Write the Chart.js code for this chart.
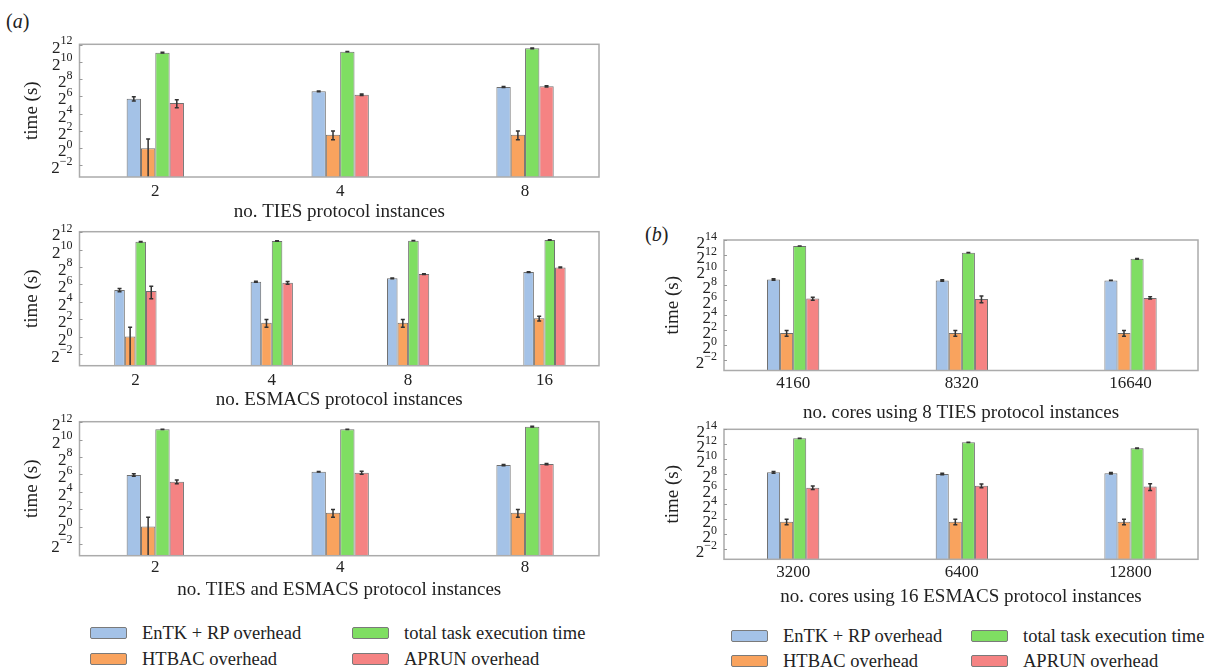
<!DOCTYPE html>
<html>
<head>
<meta charset="utf-8">
<script src="https://cdn.jsdelivr.net/npm/chart.js@4.4.1/dist/chart.umd.min.js"></script>
<style>
  body { margin: 0; background: #fff; width: 1207px; height: 668px; position: relative; overflow: hidden;
         font-family: "Liberation Serif", "Times New Roman", serif; color: #222; }
  canvas { position: absolute; }
  .tag { position: absolute; font-size: 20px; line-height: 24px; }
  .leg { position: absolute; font-size: 18.5px; white-space: nowrap; display: flex; align-items: center; height: 22px; }
  .sw { width: 37px; height: 12px; border: 1px solid #7a7a7a; border-radius: 2px; box-sizing: border-box; margin-right: 15px; }
</style>
</head>
<body>
<div class="tag" style="left:6px;top:9px">(<i>a</i>)</div>
<div class="tag" style="left:645px;top:222px">(<i>b</i>)</div>
<canvas id="a1"></canvas>
<canvas id="a2"></canvas>
<canvas id="a3"></canvas>
<canvas id="b1"></canvas>
<canvas id="b2"></canvas>
<div id="legends"></div>
<script>
const seriesLabels = ['EnTK + RP overhead', 'HTBAC overhead', 'total task execution time', 'APRUN overhead'];
const seriesColors = ['#a4c2e7', '#f9a35e', '#7fde62', '#f58383'];

const yExpsA = [-2, 0, 2, 4, 6, 8, 10, 12];
const yExpsB = [-2, 0, 2, 4, 6, 8, 10, 12, 14];

// (a) TIES only
const tiesCats = ['2', '4', '8'];
const tiesEntk = [53.4, 97, 136];
const tiesHtbac = [1.0, 2.95, 2.95];
const tiesTotal = [2165, 2336, 3083];
const tiesAprun = [37.5, 73.5, 145];
const tiesEntkErr = [9, 3, 6];
const tiesHtbacErr = [1.1, 1.0, 1.0];
const tiesTotalErr = [60, 20, 90];
const tiesAprunErr = [12, 5, 7];

// (a) ESMACS only
const esmacsCats = ['2', '4', '8', '16'];
const esmacsEntk = [40.8, 78.8, 103, 170];
const esmacsHtbac = [1.0, 3.0, 3.0, 4.26];
const esmacsTotal = [1911, 2020, 2076, 2195];
const esmacsAprun = [37.5, 72.5, 145, 247];
const esmacsEntkErr = [5, 3, 3, 5];
const esmacsHtbacErr = [1.1, 0.9, 0.9, 0.8];
const esmacsTotalErr = [40, 50, 30, 30];
const esmacsAprunErr = [17, 8, 5, 6];

// (a) TIES and ESMACS
const bothCats = ['2', '4', '8'];
const bothEntk = [60.5, 78.8, 134];
const bothHtbac = [1.0, 3.0, 3.0];
const bothTotal = [2304, 2304, 2857];
const bothAprun = [35.5, 73, 145];
const bothEntkErr = [6, 2, 6];
const bothHtbacErr = [1.1, 0.9, 0.9];
const bothTotalErr = [40, 40, 80];
const bothAprunErr = [5, 9, 7];

// (b) cores, 8 TIES
const tiesCoreCats = ['4160', '8320', '16640'];
const tiesCoreEntk = [430, 393, 393];
const tiesCoreHtbac = [3.1, 3.1, 3.1];
const tiesCoreTotal = [9410, 5113, 2896];
const tiesCoreAprun = [74, 72, 78.8];
const tiesCoreEntkErr = [30, 25, 5];
const tiesCoreHtbacErr = [0.8, 0.8, 0.8];
const tiesCoreTotalErr = [60, 100, 90];
const tiesCoreAprunErr = [10, 22, 8];

// (b) cores, 16 ESMACS
const esmacsCoreCats = ['3200', '6400', '12800'];
const esmacsCoreEntk = [307, 263, 280];
const esmacsCoreHtbac = [3.2, 3.2, 3.2];
const esmacsCoreTotal = [7131, 4939, 2837];
const esmacsCoreAprun = [74, 89.3, 81.6];
const esmacsCoreEntkErr = [25, 20, 20];
const esmacsCoreHtbacErr = [0.8, 0.8, 0.8];
const esmacsCoreTotalErr = [60, 60, 70];
const esmacsCoreAprunErr = [12, 15, 25];

Chart.defaults.font.family = '"Liberation Serif", "Times New Roman", serif';
Chart.defaults.color = '#222';

// frame round the plot area + small inward ticks on the y axis
const framePlugin = {
  id: 'frame',
  afterDraw(chart, args, opts) {
    const { ctx, chartArea: a, scales: { y } } = chart;
    ctx.save();
    ctx.strokeStyle = '#ababab';
    ctx.lineWidth = 1.5;
    ctx.strokeRect(a.left, a.top, a.right - a.left, a.bottom - a.top);
    ctx.lineWidth = 1;
    ctx.strokeStyle = '#999';
    opts.exps.forEach(e => {
      const py = Math.round(y.getPixelForValue(Math.pow(2, e))) + 0.5;
      ctx.beginPath();
      ctx.moveTo(a.left, py);
      ctx.lineTo(a.left + 3, py);
      ctx.stroke();
    });
    ctx.restore();
  }
};

// 2^n tick labels with a raised exponent
const powLabelsPlugin = {
  id: 'powLabels',
  afterDraw(chart, args, opts) {
    const { ctx, chartArea: a, scales: { y } } = chart;
    ctx.save();
    ctx.fillStyle = '#222';
    ctx.textAlign = 'right';
    ctx.textBaseline = 'alphabetic';
    const xr = a.left - 7;
    opts.exps.forEach(e => {
      const py = y.getPixelForValue(Math.pow(2, e));
      const expTxt = e < 0 ? '\u2212' + (-e) : String(e);
      ctx.font = '12px "Liberation Serif", serif';
      ctx.fillText(expTxt, xr, py - 0.5);
      const w = ctx.measureText(expTxt).width;
      ctx.font = '17px "Liberation Serif", serif';
      ctx.fillText('2', xr - w, py + 8);
    });
    ctx.restore();
  }
};

// error bars, symmetric in seconds, clipped at the axis floor
const errorBarPlugin = {
  id: 'errorBars',
  afterDatasetsDraw(chart) {
    const { ctx, chartArea: a, scales: { y } } = chart;
    ctx.save();
    ctx.strokeStyle = '#333';
    ctx.lineWidth = 1.5;
    chart.data.datasets.forEach((ds, di) => {
      const meta = chart.getDatasetMeta(di);
      meta.data.forEach((bar, i) => {
        const v = ds.data[i].y;
        const err = ds.errors[i];
        const top = y.getPixelForValue(v + err);
        const bot = v - err > 0 ? Math.min(y.getPixelForValue(v - err), a.bottom) : a.bottom;
        ctx.beginPath();
        ctx.moveTo(bar.x, top);
        ctx.lineTo(bar.x, bot);
        ctx.moveTo(bar.x - 2, top);
        ctx.lineTo(bar.x + 2, top);
        if (bot < a.bottom) {
          ctx.moveTo(bar.x - 2, bot);
          ctx.lineTo(bar.x + 2, bot);
        }
        ctx.stroke();
      });
    });
    ctx.restore();
  }
};

function drawPanel(id, box, cats, values, errs, yExps, yMaxExp, xTitle) {
  const canvas = document.getElementById(id);
  canvas.width = box.w;
  canvas.height = box.h;
  canvas.style.left = box.x + 'px';
  canvas.style.top = box.y + 'px';

  new Chart(canvas, {
    type: 'bar',
    data: {
      datasets: values.map((vals, k) => ({
        label: seriesLabels[k],
        data: vals.map((v, i) => ({ x: i, y: v })),
        errors: errs[k],
        backgroundColor: seriesColors[k],
        borderColor: '#707070',
        borderWidth: 1,
        categoryPercentage: 0.31,
        barPercentage: 1
      }))
    },
    options: {
      responsive: false,
      animation: false,
      events: [],
      layout: { padding: { left: 0, bottom: 0, top: box.plotTop - box.y, right: box.x + box.w - box.plotRight } },
      plugins: {
        legend: { display: false },
        tooltip: { enabled: false },
        frame: { exps: yExps },
        powLabels: { exps: yExps }
      },
      scales: {
        x: {
          type: 'linear',
          offset: false,
          min: -0.41,
          max: cats.length - 1 + 0.40,
          grid: { display: false, drawTicks: false },
          border: { display: false },
          afterBuildTicks: s => { s.ticks = cats.map((c, i) => ({ value: i })); },
          afterFit: s => { s.height = box.y + box.h - box.plotBottom; },
          ticks: { callback: v => cats[v], padding: box.tickPad, font: { size: 17 }, autoSkip: false, maxRotation: 0 },
          title: { display: true, text: xTitle, font: { size: 19 },
                   padding: { top: 0, bottom: box.y + box.h - box.titleY - 19 * 1.2 / 2 } }
        },
        y: {
          type: 'logarithmic',
          bounds: 'data',
          min: Math.pow(2, -3.35),
          max: Math.pow(2, yMaxExp),
          grid: { display: false, drawTicks: false },
          border: { display: false },
          ticks: { display: false },
          afterFit: s => { s.width = box.plotLeft - box.x; },
          title: { display: true, text: 'time (s)', font: { size: 19 },
                   padding: { top: box.yTitleX - box.x - 19 * 1.2 / 2, bottom: 0 } }
        }
      }
    },
    plugins: [errorBarPlugin, framePlugin, powLabelsPlugin]
  });
}

drawPanel('a1',
  { x: 0, y: 24, w: 610, h: 200, plotLeft: 79.5, plotRight: 599, plotTop: 44.3, plotBottom: 177, titleY: 211.7, tickPad: 4, yTitleX: 32 },
  tiesCats, [tiesEntk, tiesHtbac, tiesTotal, tiesAprun],
  [tiesEntkErr, tiesHtbacErr, tiesTotalErr, tiesAprunErr], yExpsA, 12.05, 'no. TIES protocol instances');

drawPanel('a2',
  { x: 0, y: 212, w: 610, h: 200, plotLeft: 79.5, plotRight: 599, plotTop: 231.7, plotBottom: 365.7, titleY: 400, tickPad: 5, yTitleX: 32 },
  esmacsCats, [esmacsEntk, esmacsHtbac, esmacsTotal, esmacsAprun],
  [esmacsEntkErr, esmacsHtbacErr, esmacsTotalErr, esmacsAprunErr], yExpsA, 12.05, 'no. ESMACS protocol instances');

drawPanel('a3',
  { x: 0, y: 402, w: 610, h: 200, plotLeft: 79.5, plotRight: 599, plotTop: 421.7, plotBottom: 555.7, titleY: 590, tickPad: 2, yTitleX: 32 },
  bothCats, [bothEntk, bothHtbac, bothTotal, bothAprun],
  [bothEntkErr, bothHtbacErr, bothTotalErr, bothAprunErr], yExpsA, 12.05, 'no. TIES and ESMACS protocol instances');

drawPanel('b1',
  { x: 600, y: 225, w: 607, h: 200, plotLeft: 724, plotRight: 1198, plotTop: 240, plotBottom: 370.5, titleY: 413, tickPad: 2.5, yTitleX: 673 },
  tiesCoreCats, [tiesCoreEntk, tiesCoreHtbac, tiesCoreTotal, tiesCoreAprun],
  [tiesCoreEntkErr, tiesCoreHtbacErr, tiesCoreTotalErr, tiesCoreAprunErr], yExpsB, 14, 'no. cores using 8 TIES protocol instances');

drawPanel('b2',
  { x: 600, y: 415, w: 607, h: 195, plotLeft: 724, plotRight: 1198, plotTop: 429.3, plotBottom: 559.3, titleY: 597, tickPad: 3.5, yTitleX: 673 },
  esmacsCoreCats, [esmacsCoreEntk, esmacsCoreHtbac, esmacsCoreTotal, esmacsCoreAprun],
  [esmacsCoreEntkErr, esmacsCoreHtbacErr, esmacsCoreTotalErr, esmacsCoreAprunErr], yExpsB, 14, 'no. cores using 16 ESMACS protocol instances');

// two 2x2 legends under the columns
function addLegend(cols, rows) {
  const host = document.getElementById('legends');
  seriesLabels.forEach((name, k) => {
    const item = document.createElement('div');
    item.className = 'leg';
    item.style.left = cols[Math.floor(k / 2)] + 'px';
    item.style.top = (rows[k % 2] - 11) + 'px';
    item.innerHTML = `<span class="sw" style="background:${seriesColors[k]}"></span><span>${name}</span>`;
    host.appendChild(item);
  });
}
addLegend([90, 352], [633, 659]);
addLegend([731, 971], [636, 661]);
</script>
</body>
</html>
